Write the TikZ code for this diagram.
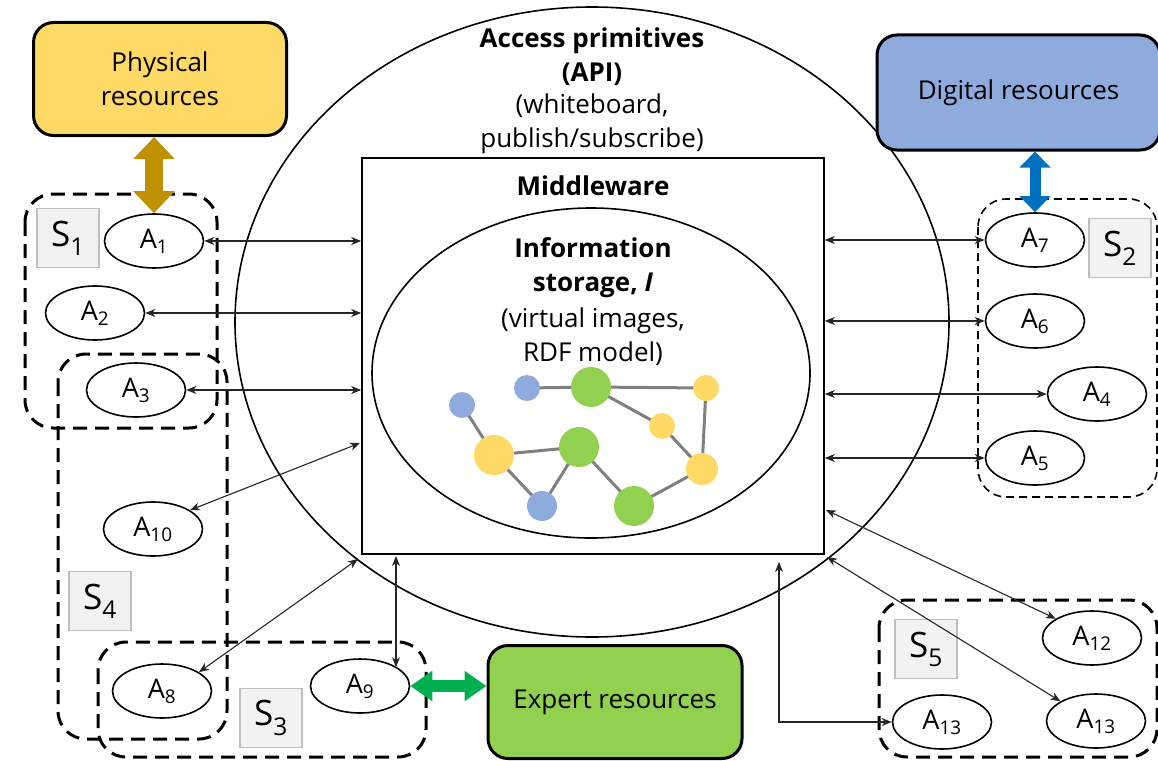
\documentclass[tikz,border=0pt]{standalone}
\usepackage{fontspec}
\setmainfont{Open Sans}
\usetikzlibrary{shapes.geometric,arrows.meta}
\definecolor{cyel}{HTML}{FFD966}
\definecolor{cblu}{HTML}{8FAADC}
\definecolor{cgrn}{HTML}{92D050}
\definecolor{cgold}{HTML}{BF9000}
\definecolor{cdblue}{HTML}{0070C0}
\definecolor{cegreen}{HTML}{00B050}
\definecolor{sfill}{HTML}{F2F2F2}
\definecolor{sline}{HTML}{BFBFBF}
\definecolor{edgegray}{HTML}{808080}
\begin{document}
\begin{tikzpicture}[x=1pt,y=-1pt,
 resbox/.style={draw=black, line width=3pt, rounded corners=20pt, align=center, font=\fontsize{26}{34}\selectfont, inner sep=0pt},
 agent/.style={draw, ellipse, line width=1.6pt, minimum width=99pt, minimum height=54pt, inner sep=0pt, font=\fontsize{27}{30}\selectfont},
 slabel/.style={draw=sline, fill=sfill, line width=1.5pt, minimum width=62pt, minimum height=59pt, inner sep=0pt, font=\fontsize{35}{40}\selectfont},
 grp/.style={line width=3pt, dash pattern=on 14pt off 8pt, rounded corners=28pt},
 grpthin/.style={line width=1.6pt, dash pattern=on 8pt off 5pt, rounded corners=28pt},
 conn/.style={line width=1.1pt, draw=black!85, {Stealth[length=10pt,width=8pt,inset=3pt]}-{Stealth[length=10pt,width=8pt,inset=3pt]}},
 gnode/.style={circle, inner sep=0pt},
 gedge/.style={draw=edgegray, line width=3pt},
 ttl/.style={font=\fontsize{26}{34}\selectfont\bfseries, align=center},
 txt/.style={font=\fontsize{26}{34}\selectfont, align=center},
]
\useasboundingbox (0,0) rectangle (1158,760);

% outer API ellipse and middleware
\node[draw, ellipse, line width=1.6pt, minimum width=714pt, minimum height=630pt, inner sep=0pt] (api) at (592,322) {};
\node[draw, rectangle, line width=1.6pt, minimum width=462pt, minimum height=396pt, inner sep=0pt] (mw) at (593,356) {};
\node[draw, ellipse, line width=1.6pt, minimum width=438pt, minimum height=330pt, inner sep=0pt] (info) at (591,373) {};

\node[ttl] (apit) at (592,57) {Access primitives\\(API)};
\node[txt] (apis) at (592,124) {(whiteboard,\\publish/subscribe)};
\node[ttl] (mwt) at (593,186) {Middleware};
\node[ttl] (inft) at (593,268) {Information\\storage, \textit{I}};
\node[txt] (infs) at (593,337) {(virtual images,\\RDF model)};

% graph
\coordinate (g1) at (462,405);
\coordinate (g2) at (527,388);
\coordinate (g3) at (591,387);
\coordinate (g4) at (706,388);
\coordinate (g5) at (662,426);
\coordinate (g6) at (494,455);
\coordinate (g7) at (579,447);
\coordinate (g8) at (702,469);
\coordinate (g9) at (542,506);
\coordinate (g10) at (634,506);
\foreach \a/\b in {g1/g6,g2/g3,g3/g4,g3/g5,g5/g8,g4/g8,g6/g7,g6/g9,g9/g7,g7/g10,g10/g8}
  \draw[gedge] (\a) -- (\b);
\node[gnode, fill=cblu, minimum size=26pt] (n1) at (g1) {};
\node[gnode, fill=cblu, minimum size=26pt] (n2) at (g2) {};
\node[gnode, fill=cgrn, minimum size=40pt] (n3) at (g3) {};
\node[gnode, fill=cyel, minimum size=26pt] (n4) at (g4) {};
\node[gnode, fill=cyel, minimum size=26pt] (n5) at (g5) {};
\node[gnode, fill=cyel, minimum size=40pt] (n6) at (g6) {};
\node[gnode, fill=cgrn, minimum size=40pt] (n7) at (g7) {};
\node[gnode, fill=cyel, minimum size=32pt] (n8) at (g8) {};
\node[gnode, fill=cblu, minimum size=30pt] (n9) at (g9) {};
\node[gnode, fill=cgrn, minimum size=40pt] (n10) at (g10) {};

% resource boxes
\node[resbox, fill=cyel, minimum width=253pt, minimum height=113pt] (phys) at (160,79) {Physical\\resources};
\node[resbox, fill=cblu, minimum width=283pt, minimum height=115pt] (dig) at (1018.5,92.5) {Digital resources};
\node[resbox, fill=cgrn, minimum width=254pt, minimum height=113pt] (exp) at (615,702) {Expert resources};

% groups
\draw[grp] (25,194) rectangle (217,428);
\draw[grp] (58,354) rectangle (227,739);
\draw[grp] (98,642) rectangle (426,757);
\draw[grp] (879,600) rectangle (1157,757);
\draw[grpthin] (978,199) rectangle (1157,497);

% group labels
\node[slabel] (s1) at (68,238) {S\textsubscript{1}};
\node[slabel] (s2) at (1120,248) {S\textsubscript{2}};
\node[slabel] (s3) at (271,718) {S\textsubscript{3}};
\node[slabel] (s4) at (100,601) {S\textsubscript{4}};
\node[slabel] (s5) at (926,649) {S\textsubscript{5}};

% agents
\node[agent] (A1) at (154,241) {A\textsubscript{1}};
\node[agent] (A2) at (95,313) {A\textsubscript{2}};
\node[agent] (A3) at (136,390) {A\textsubscript{3}};
\node[agent] (A10) at (153,529) {A\textsubscript{10}};
\node[agent] (A8) at (162,691) {A\textsubscript{8}};
\node[agent] (A9) at (360,686) {A\textsubscript{9}};
\node[agent] (A7) at (1035,240) {A\textsubscript{7}};
\node[agent] (A6) at (1035,321) {A\textsubscript{6}};
\node[agent] (A4) at (1097,394) {A\textsubscript{4}};
\node[agent] (A5) at (1035,458) {A\textsubscript{5}};
\node[agent] (A12) at (1092,638) {A\textsubscript{12}};
\node[agent] (A13a) at (942,722) {A\textsubscript{13}};
\node[agent] (A13b) at (1096,721) {A\textsubscript{13}};

% fat arrows
\draw[cgold, line width=18pt, {Triangle[width=40pt,length=22pt]}-{Triangle[width=40pt,length=22pt]}] (A1.north |- phys.south) -- (A1.north);
\draw[cdblue, line width=11pt, {Triangle[width=30pt,length=16pt]}-{Triangle[width=30pt,length=16pt]}] (A7.north |- dig.south) -- (A7.north);
\draw[cegreen, line width=12pt, {Triangle[width=29pt,length=22pt]}-{Triangle[width=29pt,length=22pt]}] (A9.east) -- (A9.east -| exp.west);

% connectors
\coordinate (m10) at (360,443);
\coordinate (m8) at (358,559);
\coordinate (m9) at (396,556);
\coordinate (m12) at (826,510);
\coordinate (m13b) at (827,557);
\coordinate (m13a) at (779,562);
\draw[conn] (A1.east) -- (A1.east -| mw.west);
\draw[conn] (A2.east) -- (A2.east -| mw.west);
\draw[conn] (A3.east) -- (A3.east -| mw.west);
\draw[conn] (A10.27) -- (m10);
\draw[conn] (A8.27) -- (m8);
\draw[conn] (m9) -- (m9 |- A9.27);
\draw[conn] (A7.west -| mw.east) -- (A7.west);
\draw[conn] (A6.west -| mw.east) -- (A6.west);
\draw[conn] (A4.west -| mw.east) -- (A4.west);
\draw[conn] (A5.west -| mw.east) -- (A5.west);
\draw[conn] (m12) -- (A12.152);
\draw[conn] (m13b) -- (A13b.151);
\draw[conn] (m13a) |- (A13a.west);
\end{tikzpicture}
\end{document}
